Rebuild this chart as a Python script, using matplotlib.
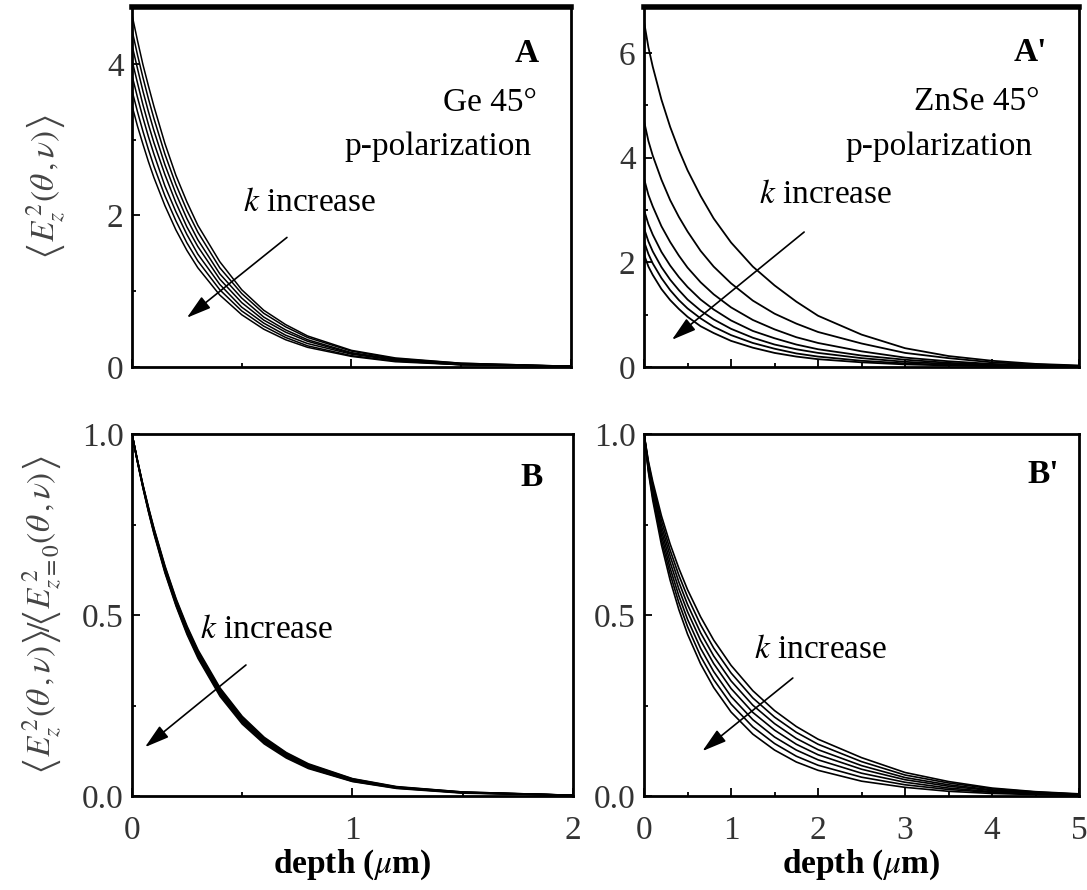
import numpy as np
import matplotlib
matplotlib.use('Agg')
import matplotlib.pyplot as plt
from matplotlib.ticker import MultipleLocator, FormatStrFormatter

plt.rcParams['font.family'] = ['Liberation Serif', 'DejaVu Serif']
plt.rcParams['mathtext.fontset'] = 'stix'

# Ge 45 deg, depth in um (one row per k value, k increasing downwards)
ge_depth = [0, 0.025, 0.05, 0.075, 0.1, 0.15, 0.2, 0.25, 0.3, 0.4, 0.5, 0.6, 0.7, 0.8,
            1.0, 1.2, 1.5, 2.0]
ge_field = [
    [4.65, 4.31, 3.99, 3.71, 3.44, 2.95, 2.53, 2.18, 1.87, 1.39, 1.02, 0.75, 0.56, 0.41, 0.22, 0.12, 0.05, 0.01],
    [4.45, 4.12, 3.82, 3.54, 3.28, 2.81, 2.41, 2.07, 1.78, 1.31, 0.97, 0.71, 0.53, 0.39, 0.21, 0.11, 0.05, 0.01],
    [4.25, 3.94, 3.64, 3.37, 3.12, 2.67, 2.29, 1.96, 1.68, 1.23, 0.91, 0.66, 0.49, 0.36, 0.19, 0.10, 0.04, 0.01],
    [4.05, 3.75, 3.46, 3.20, 2.96, 2.54, 2.17, 1.85, 1.59, 1.16, 0.85, 0.62, 0.46, 0.34, 0.18, 0.10, 0.04, 0.01],
    [3.85, 3.56, 3.29, 3.04, 2.81, 2.39, 2.05, 1.75, 1.49, 1.09, 0.79, 0.58, 0.42, 0.31, 0.17, 0.09, 0.03, 0.01],
    [3.65, 3.37, 3.11, 2.87, 2.65, 2.26, 1.93, 1.64, 1.40, 1.02, 0.74, 0.54, 0.39, 0.28, 0.15, 0.08, 0.03, 0.01],
    [3.45, 3.18, 2.94, 2.71, 2.50, 2.13, 1.81, 1.54, 1.31, 0.95, 0.69, 0.50, 0.36, 0.26, 0.14, 0.07, 0.03, 0.01],
]
ge_norm = [
    [1.0, 0.927, 0.859, 0.797, 0.739, 0.635, 0.545, 0.469, 0.403, 0.298, 0.220, 0.162, 0.120, 0.089, 0.048, 0.026, 0.011, 0.002],
    [1.0, 0.926, 0.858, 0.795, 0.737, 0.632, 0.542, 0.465, 0.399, 0.294, 0.217, 0.159, 0.118, 0.087, 0.047, 0.025, 0.011, 0.002],
    [1.0, 0.926, 0.856, 0.793, 0.734, 0.629, 0.538, 0.461, 0.395, 0.290, 0.213, 0.156, 0.115, 0.085, 0.045, 0.024, 0.010, 0.002],
    [1.0, 0.925, 0.855, 0.791, 0.732, 0.626, 0.535, 0.458, 0.392, 0.287, 0.210, 0.153, 0.113, 0.083, 0.044, 0.024, 0.010, 0.002],
    [1.0, 0.924, 0.854, 0.789, 0.729, 0.622, 0.532, 0.454, 0.388, 0.283, 0.206, 0.150, 0.110, 0.080, 0.043, 0.023, 0.009, 0.002],
    [1.0, 0.924, 0.852, 0.787, 0.727, 0.619, 0.528, 0.450, 0.384, 0.279, 0.203, 0.147, 0.108, 0.078, 0.041, 0.022, 0.009, 0.002],
    [1.0, 0.923, 0.851, 0.785, 0.724, 0.616, 0.525, 0.446, 0.380, 0.275, 0.199, 0.144, 0.105, 0.076, 0.040, 0.021, 0.008, 0.002],
]

# ZnSe 45 deg
znse_depth = [0, 0.05, 0.1, 0.2, 0.3, 0.4, 0.5, 0.65, 0.8, 1.0, 1.25, 1.5, 1.75, 2.0,
              2.5, 3.0, 3.5, 4.0, 4.5, 5.0]
znse_field = [
    [6.60, 6.11, 5.74, 5.11, 4.59, 4.15, 3.76, 3.27, 2.84, 2.38, 1.92, 1.56, 1.25, 0.98, 0.62, 0.36, 0.21, 0.12, 0.06, 0.03],
    [4.70, 4.32, 4.04, 3.58, 3.19, 2.87, 2.59, 2.22, 1.92, 1.60, 1.27, 1.02, 0.83, 0.67, 0.45, 0.27, 0.17, 0.09, 0.05, 0.02],
    [3.60, 3.29, 3.07, 2.69, 2.39, 2.13, 1.90, 1.62, 1.39, 1.14, 0.90, 0.72, 0.57, 0.46, 0.30, 0.18, 0.11, 0.06, 0.03, 0.02],
    [3.00, 2.73, 2.53, 2.20, 1.94, 1.72, 1.53, 1.29, 1.10, 0.89, 0.69, 0.55, 0.43, 0.34, 0.22, 0.14, 0.08, 0.05, 0.02, 0.01],
    [2.65, 2.40, 2.21, 1.91, 1.67, 1.47, 1.29, 1.08, 0.91, 0.73, 0.56, 0.43, 0.34, 0.27, 0.17, 0.10, 0.06, 0.03, 0.02, 0.01],
    [2.40, 2.16, 1.98, 1.70, 1.47, 1.28, 1.12, 0.93, 0.77, 0.61, 0.46, 0.35, 0.26, 0.20, 0.12, 0.07, 0.04, 0.02, 0.01, 0.01],
    [2.15, 1.92, 1.76, 1.49, 1.28, 1.11, 0.96, 0.78, 0.65, 0.50, 0.37, 0.27, 0.20, 0.15, 0.09, 0.05, 0.03, 0.02, 0.01, 0.00],
]
znse_norm = [
    [1.0, 0.925, 0.869, 0.774, 0.696, 0.629, 0.570, 0.495, 0.431, 0.361, 0.291, 0.236, 0.192, 0.157, 0.106, 0.065, 0.040, 0.022, 0.012, 0.006],
    [1.0, 0.920, 0.860, 0.761, 0.679, 0.610, 0.550, 0.473, 0.409, 0.340, 0.271, 0.218, 0.176, 0.143, 0.095, 0.058, 0.036, 0.020, 0.011, 0.005],
    [1.0, 0.915, 0.852, 0.747, 0.663, 0.591, 0.529, 0.451, 0.387, 0.318, 0.251, 0.200, 0.159, 0.128, 0.084, 0.051, 0.031, 0.017, 0.009, 0.005],
    [1.0, 0.910, 0.843, 0.734, 0.646, 0.572, 0.509, 0.430, 0.366, 0.297, 0.231, 0.182, 0.143, 0.114, 0.074, 0.045, 0.027, 0.015, 0.008, 0.004],
    [1.0, 0.905, 0.834, 0.721, 0.629, 0.553, 0.488, 0.408, 0.344, 0.275, 0.211, 0.163, 0.127, 0.100, 0.063, 0.038, 0.022, 0.012, 0.007, 0.003],
    [1.0, 0.900, 0.826, 0.707, 0.613, 0.534, 0.468, 0.386, 0.322, 0.254, 0.191, 0.145, 0.110, 0.085, 0.052, 0.031, 0.018, 0.010, 0.005, 0.003],
    [1.0, 0.895, 0.817, 0.694, 0.596, 0.515, 0.447, 0.365, 0.300, 0.232, 0.171, 0.127, 0.094, 0.071, 0.041, 0.024, 0.013, 0.007, 0.004, 0.002],
]

FS = 24
LBL_TOP = r'$\left\langle E_z^{\,2}(\theta\,,\nu)\right\rangle$'
LBL_BOT = (r'$\left\langle E_z^{\,2}(\theta\,,\nu)\right\rangle\!/\!'
           r'\left\langle E_{z=0}^{\,2}(\theta\,,\nu)\right\rangle$')


def arruma_eixo(ax, xmax, ymax, ymaj, ymin, show_x):
    ax.set_xlim(0, xmax)
    ax.set_ylim(0, ymax)
    ax.xaxis.set_major_locator(MultipleLocator(1))
    ax.xaxis.set_minor_locator(MultipleLocator(0.5))
    ax.yaxis.set_major_locator(MultipleLocator(ymaj))
    ax.yaxis.set_minor_locator(MultipleLocator(ymin))
    ax.tick_params(which='both', direction='in', top=False, right=False,
                   labelsize=FS, labelcolor='#333333', width=1.3)
    ax.tick_params(which='major', length=6)
    ax.tick_params(which='minor', length=3)
    ax.tick_params(axis='x', pad=14)
    ax.tick_params(axis='y', pad=6)
    for s in ax.spines.values():
        s.set_linewidth(2.0)
    if not show_x:
        ax.tick_params(axis='x', labelbottom=False)
    else:
        ax.set_xlabel(r'depth ($\mu$m)', fontsize=FS, fontweight='bold', labelpad=1)


def seta(ax, xy_txt, xy_end):
    ax.annotate('', xy=xy_end, xytext=xy_txt,
                arrowprops=dict(arrowstyle='-|>,head_length=0.75,head_width=0.22',
                                color='black', lw=1.2, mutation_scale=20,
                                shrinkA=0, shrinkB=0))


fig = plt.figure(figsize=(10.87, 8.90), dpi=100)

ax1 = fig.add_axes([0.1214, 0.5876, 0.4039, 0.4045])
ax2 = fig.add_axes([0.5925, 0.5876, 0.4002, 0.4045])
ax3 = fig.add_axes([0.1214, 0.1056, 0.4057, 0.4067])
ax4 = fig.add_axes([0.5925, 0.1056, 0.4002, 0.4067])

for row in ge_field:
    ax1.plot(ge_depth, row, color='black', lw=1.1)
for row in znse_field:
    ax2.plot(znse_depth, row, color='black', lw=1.3)
for row in ge_norm:
    ax3.plot(ge_depth, row, color='black', lw=1.2)
for row in znse_norm:
    ax4.plot(znse_depth, row, color='black', lw=1.2)

arruma_eixo(ax1, 2, 4.75, 2, 1, False)
arruma_eixo(ax2, 5, 6.88, 2, 1, False)
arruma_eixo(ax3, 2, 1.0, 0.5, 0.25, True)
arruma_eixo(ax4, 5, 1.0, 0.5, 0.25, True)
ax3.yaxis.set_major_formatter(FormatStrFormatter('%.1f'))
ax4.yaxis.set_major_formatter(FormatStrFormatter('%.1f'))
ax1.spines['top'].set_linewidth(4)
ax2.spines['top'].set_linewidth(4)

ax1.set_ylabel(LBL_TOP, fontsize=FS, color='#444444')
ax1.yaxis.set_label_coords(-0.146, 0.5)
ax3.set_ylabel(LBL_BOT, fontsize=FS, color='#444444')
ax3.yaxis.set_label_coords(-0.154, 0.5)

# textos dos paineis
ax1.text(0.927, 0.872, 'A', transform=ax1.transAxes, fontsize=FS, fontweight='bold',
         ha='right', va='center')
ax1.text(0.923, 0.733, 'Ge 45°', transform=ax1.transAxes, fontsize=FS, ha='right', va='center')
ax1.text(0.911, 0.611, 'p-polarization', transform=ax1.transAxes, fontsize=FS,
         ha='right', va='center')
ax1.text(0.253, 0.456, r'$k$ increase', transform=ax1.transAxes, fontsize=FS, va='center')
seta(ax1, (0.706, 1.71), (0.25, 0.65))

ax2.text(0.926, 0.875, "A'", transform=ax2.transAxes, fontsize=FS, fontweight='bold',
         ha='right', va='center')
ax2.text(0.910, 0.736, 'ZnSe 45°', transform=ax2.transAxes, fontsize=FS, ha='right', va='center')
ax2.text(0.894, 0.611, 'p-polarization', transform=ax2.transAxes, fontsize=FS,
         ha='right', va='center')
ax2.text(0.265, 0.478, r'$k$ increase', transform=ax2.transAxes, fontsize=FS, va='center')
seta(ax2, (1.84, 2.58), (0.32, 0.52))

ax3.text(0.932, 0.88, 'B', transform=ax3.transAxes, fontsize=FS, fontweight='bold',
         ha='right', va='center')
ax3.text(0.154, 0.459, r'$k$ increase', transform=ax3.transAxes, fontsize=FS, va='center')
seta(ax3, (0.517, 0.362), (0.059, 0.135))

ax4.text(0.954, 0.887, "B'", transform=ax4.transAxes, fontsize=FS, fontweight='bold',
         ha='right', va='center')
ax4.text(0.253, 0.403, r'$k$ increase', transform=ax4.transAxes, fontsize=FS, va='center')
seta(ax4, (1.71, 0.326), (0.67, 0.124))

fig.savefig('out.png', dpi=100)
